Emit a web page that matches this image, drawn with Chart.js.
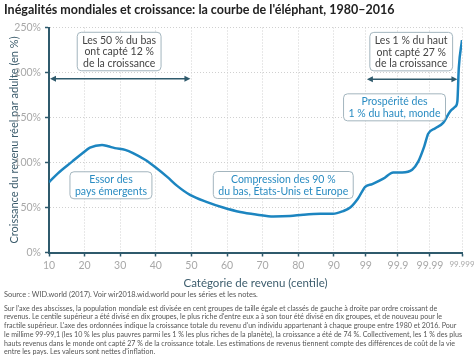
<!DOCTYPE html>
<html>
<head>
<meta charset="utf-8">
<script src="https://cdn.jsdelivr.net/npm/chart.js@4.4.1/dist/chart.umd.min.js"></script>
<style>
  body { margin: 0; width: 474px; height: 361px; background: #fff; font-family: Lato, sans-serif; position: relative; overflow: hidden; }
  #title { position: absolute; left: 4px; top: 2px; font-weight: bold; font-size: 12.5px; color: #222; white-space: nowrap; }
  #wrap { position: absolute; left: 0; top: 0; width: 474px; height: 292px; }
  #notes { position: absolute; left: 4px; top: 291px; font-size: 7.1px; color: #555; line-height: 8.7px; white-space: nowrap; }
  #notes .src { margin-bottom: 5px; font-size: 7.4px; }
</style>
</head>
<body>
<div id="wrap"><canvas id="elephant"></canvas></div>
<div id="title">Inégalités mondiales et croissance: la courbe de l'éléphant, 1980–2016</div>
<div id="notes">
  <div class="src">Source : WID.world (2017). Voir wir2018.wid.world pour les séries et les notes.</div>
  <div>Sur l'axe des abscisses, la population mondiale est divisée en cent groupes de taille égale et classés de gauche à droite par ordre croissant de</div>
  <div>revenus. Le centile supérieur a été divisé en dix groupes, le plus riche d'entre eux a à son tour été divisé en dix groupes, et de nouveau pour le</div>
  <div>fractile supérieur. L'axe des ordonnées indique la croissance totale du revenu d'un individu appartenant à chaque groupe entre 1980 et 2016. Pour</div>
  <div>le millime 99-99,1 (les 10 % les plus pauvres parmi les 1 % les plus riches de la planète), la croissance a été de 74 %. Collectivement, les 1 % des plus</div>
  <div>hauts revenus dans le monde ont capté 27 % de la croissance totale. Les estimations de revenus tiennent compte des différences de coût de la vie</div>
  <div>entre les pays. Les valeurs sont nettes d'inflation.</div>
</div>
<script>
// x axis: centile ticks, the top centile is split in log-like steps
const tickCentiles = [10, 20, 30, 40, 50, 60, 70, 80, 90, 99, 99.9, 99.99, 99.999];
const tickLabels = ["10", "20", "30", "40", "50", "60", "70", "80", "90", "99", "99.9", "99.99", "99.999"];
const axisPos = [0, 1, 2, 3, 4, 5, 6, 7, 8, 8.9, 9.8, 10.7, 11.6];

// growth of real income per adult, 1980-2016 (%)
const centiles = [10, 12.5, 16.5, 19.3, 21.5, 24.9, 26.6, 28.5, 31.4, 33.6, 37, 39.8, 43.2, 46, 49.6,
  54.4, 58.9, 63.7, 68.5, 73, 77.7, 81.4, 86.2, 89.8, 92.6, 94.6, 96.8, 98.8, 99.18, 99.49, 99.77,
  99.912, 99.94, 99.957, 99.974, 99.985, 99.9915, 99.9937, 99.9957, 99.9971, 99.9977, 99.9981, 99.999];
const growth = [78, 88, 101, 110, 116.5, 119.5, 118, 116, 114, 110.5, 103, 95, 84, 74, 64,
  56, 50, 45, 42, 40, 40.5, 42, 43, 43, 46, 50, 60, 73, 76, 82, 89,
  89, 92, 101, 118, 132, 138, 144, 157, 162, 168, 205, 236];

const yTicks = [0, 50, 100, 150, 200, 250];

const notes = [
  { lines: ["Les 50 % du bas", "ont capté 12 %", "de la croissance"], c: 29.7, g: 223.3, color: "#444" },
  { lines: ["Les 1 % du haut", "ont capté 27 %", "de la croissance"], c: 99.9374, g: 223.2, color: "#444" },
  { lines: ["Prospérité des", "1 % du haut, monde"], c: 99.805, g: 161.3, color: "#2a8cc2" },
  { lines: ["Essor des", "pays émergents"], c: 27.4, g: 74.7, color: "#2a8cc2" },
  { lines: ["Compression des 90 %", "du bas, États-Unis et Europe"], c: 75.8, g: 75, color: "#2a8cc2" },
];
const arrows = [
  { from: 10, to: 50, g: 193 },
  { from: 99, to: 99.998, g: 192.4 },
];

// centile -> position on the x axis
function pos(c) {
  for (let i = 0; i < tickCentiles.length - 1; i++) {
    const a = tickCentiles[i], b = tickCentiles[i + 1];
    if (c <= b) {
      return axisPos[i] + (c - a) / (b - a) * (axisPos[i + 1] - axisPos[i]);
    }
  }
  return axisPos[axisPos.length - 1];
}

const AXIS = "#2f5a6c";
const GRID = "#d0d0d0";

function arrowHead(ctx, x, y, dir) {
  ctx.beginPath();
  ctx.moveTo(x, y);
  ctx.lineTo(x - dir * 6, y - 3);
  ctx.lineTo(x - dir * 6, y + 3);
  ctx.closePath();
  ctx.fill();
}

function roundRect(ctx, x, y, w, h, r) {
  ctx.beginPath();
  ctx.moveTo(x + r, y);
  ctx.lineTo(x + w - r, y);
  ctx.arcTo(x + w, y, x + w, y + r, r);
  ctx.lineTo(x + w, y + h - r);
  ctx.arcTo(x + w, y + h, x + w - r, y + h, r);
  ctx.lineTo(x + r, y + h);
  ctx.arcTo(x, y + h, x, y + h - r, r);
  ctx.lineTo(x, y + r);
  ctx.arcTo(x, y, x + r, y, r);
  ctx.closePath();
}

const notePlugin = {
  id: "notes",
  afterDatasetsDraw(chart) {
    const { ctx, scales: { x, y } } = chart;
    ctx.save();
    // double arrows
    ctx.strokeStyle = AXIS;
    ctx.fillStyle = AXIS;
    ctx.lineWidth = 1.5;
    arrows.forEach((a) => {
      const x1 = x.getPixelForValue(pos(a.from)) + 1;
      const x2 = x.getPixelForValue(pos(a.to)) - 1;
      const yy = y.getPixelForValue(a.g);
      ctx.beginPath();
      ctx.moveTo(x1 + 4, yy);
      ctx.lineTo(x2 - 4, yy);
      ctx.stroke();
      arrowHead(ctx, x1, yy, -1);
      arrowHead(ctx, x2, yy, 1);
    });
    // boxes
    ctx.font = "10.5px Lato";
    ctx.textAlign = "center";
    ctx.textBaseline = "middle";
    const lh = 11.5;
    notes.forEach((n) => {
      const cx = x.getPixelForValue(pos(n.c));
      const cy = y.getPixelForValue(n.g);
      const w = Math.max(...n.lines.map((l) => ctx.measureText(l).width)) + 10;
      const h = n.lines.length * lh + 4;
      roundRect(ctx, cx - w / 2, cy - h / 2, w, h, 4);
      ctx.fillStyle = "#fff";
      ctx.fill();
      ctx.strokeStyle = "#a3b5be";
      ctx.lineWidth = 1;
      ctx.stroke();
      ctx.fillStyle = n.color;
      n.lines.forEach((l, i) => {
        ctx.fillText(l, cx, cy - (n.lines.length - 1) * lh / 2 + i * lh + 0.5);
      });
    });
    ctx.restore();
  },
};

new Chart(document.getElementById("elephant"), {
  type: "line",
  data: {
    datasets: [
      {
        data: centiles.map((c, i) => ({ x: pos(c), y: growth[i] })),
        borderColor: "#1c85c0",
        borderWidth: 2.5,
        pointRadius: 0,
        cubicInterpolationMode: "monotone",
        fill: false,
      },
    ],
  },
  options: {
    responsive: true,
    maintainAspectRatio: false,
    animation: false,
    layout: { padding: { top: 27.5, right: 12, left: 0, bottom: 0 } },
    plugins: { legend: { display: false }, tooltip: { enabled: false } },
    scales: {
      x: {
        type: "linear",
        min: 0,
        max: axisPos[axisPos.length - 1],
        afterBuildTicks: (s) => { s.ticks = axisPos.map((v) => ({ value: v })); },
        afterFit: (s) => { s.height = 39.5; s.paddingLeft = 0; s.paddingRight = 0; },
        ticks: {
          autoSkip: false,
          maxRotation: 0,
          padding: 3,
          color: "#a8a8a8",
          font: (c) => ({ family: "Lato", size: c.index === 12 ? 8 : 10.5 }),
          callback: (v, i) => tickLabels[i],
        },
        grid: { color: GRID, tickColor: AXIS, tickLength: 4, tickWidth: 1.5, lineWidth: 1 },
        border: { color: AXIS, width: 2, dash: [1, 2] },
        title: {
          display: true,
          text: "Catégorie de revenu (centile)",
          color: "#3d5d6d",
          font: { family: "Lato", size: 11.5 },
          padding: { top: 0, bottom: 2 },
        },
      },
      y: {
        min: 0,
        max: 250,
        afterBuildTicks: (s) => { s.ticks = yTicks.map((v) => ({ value: v })); },
        afterFit: (s) => { s.width = 49; },
        ticks: {
          padding: 4,
          color: "#a8a8a8",
          font: { family: "Lato", size: 10.5 },
          callback: (v) => v + "%",
        },
        grid: { color: GRID, tickColor: AXIS, tickLength: 4, tickWidth: 1.5, lineWidth: 1 },
        border: { color: AXIS, width: 2, dash: [1, 2] },
        title: {
          display: true,
          text: "Croissance du revenu réel par adulte (en %)",
          color: "#3d5d6d",
          font: { family: "Lato", size: 11 },
          padding: { top: 8, bottom: 0 },
        },
      },
    },
  },
  plugins: [notePlugin],
});
</script>
</body>
</html>
